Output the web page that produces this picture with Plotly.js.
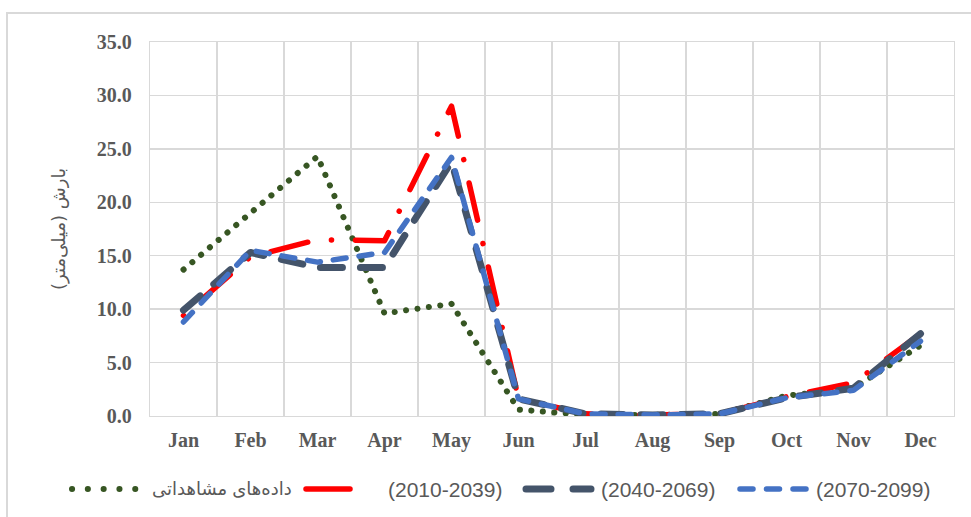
<!DOCTYPE html>
<html>
<head>
<meta charset="utf-8">
<script src="https://cdn.plot.ly/plotly-3.0.1.min.js"></script>
<style>
  html, body { margin: 0; padding: 0; background: #fff; }
  #frame { position: absolute; left: 6px; top: 12px; width: 1000px; height: 600px; border: 2px solid #d9d9d9; box-sizing: border-box; }
  #chart { position: absolute; left: 0; top: 0; width: 971px; height: 517px; }
  path.js-line, .shapelayer path { stroke-linecap: round !important; stroke-linejoin: round !important; }
</style>
</head>
<body>
<div id="frame"></div>
<div id="chart"></div>
<script>
// Data (monthly precipitation, mm)
const months = ["Jan","Feb","Mar","Apr","May","Jun","Jul","Aug","Sep","Oct","Nov","Dec"];
const observed = [13.7, 19.0, 24.3, 9.6, 10.5, 0.6, 0.1, 0.1, 0.2, 1.9, 2.6, 6.6];
const p2010_2039 = [9.4, 14.9, 16.5, 16.4, 29.0, 1.6, 0.2, 0.1, 0.2, 1.8, 3.1, 7.7];
const p2040_2069 = [9.9, 15.3, 13.9, 13.9, 23.8, 1.6, 0.2, 0.1, 0.2, 1.7, 2.6, 7.7];
const p2070_2099 = [8.8, 15.5, 14.4, 15.3, 24.2, 1.6, 0.2, 0.1, 0.2, 1.7, 2.4, 7.0];
const seriesNames = ["داده‌های مشاهداتی", "(2010-2039)", "(2040-2069)", "(2070-2099)"];
const seriesColors = ["#375623", "#FF0000", "#44546A", "#4472C4"];
const seriesWidths = [6, 5.5, 7, 5.5];
const seriesDash = ["0.1px,11.4px", "0.1px,24px,38px,24px", "22px,18px", "13px,13px"];
const yTitle = "بارش (میلی‌متر)";

const seriesValues = [observed, p2010_2039, p2040_2069, p2070_2099];
const traces = seriesValues.map((vals, i) => ({
  x: months, y: vals, name: seriesNames[i], type: "scatter", mode: "lines",
  line: {color: seriesColors[i], width: seriesWidths[i], dash: seriesDash[i]},
  showlegend: false
}));

// Plot-area geometry (px) used to place the legend row below the chart
const M = {l: 150, r: 17, t: 42, b: 101};
const W = 971, H = 517;
const pw = W - M.l - M.r, ph = H - M.t - M.b;
const px2x = px => (px - M.l) / pw;
const py2y = py => (H - M.b - py) / ph;

// Legend row: symbol [x0, x1], dash for symbol, text left edge
const legendY = 489;
const legendSymbols = [
  {x0: 72, x1: 136, dash: "0.1px,15.7px"},
  {x0: 306, x1: 350, dash: "solid"},
  {x0: 526, x1: 591, dash: "25px,22px"},
  {x0: 740, x1: 806, dash: "13px,13.5px"}
];
const legendTextX = [150, 386, 599, 814];
const legendFontSize = [18, 21, 21, 21];

const shapes = legendSymbols.map((s, i) => ({
  type: "line", xref: "paper", yref: "paper", layer: "above",
  x0: px2x(s.x0), x1: px2x(s.x1), y0: py2y(legendY), y1: py2y(legendY),
  line: {color: seriesColors[i], width: seriesWidths[i], dash: s.dash}
}));
const annotations = seriesNames.map((n, i) => ({
  text: n, xref: "paper", yref: "paper", x: px2x(legendTextX[i]), y: py2y(legendY),
  xanchor: "left", yanchor: "middle", showarrow: false,
  font: {family: "Liberation Sans, DejaVu Sans, sans-serif", size: legendFontSize[i], color: "#595959"}
}));

const tickFont = {family: "Liberation Serif, serif", size: 20, color: "#595959", weight: "bold"};

const layout = {
  width: W, height: H,
  paper_bgcolor: "rgba(0,0,0,0)", plot_bgcolor: "#fff",
  margin: M,
  showlegend: false,
  xaxis: {
    type: "category", range: [-0.5, 11.5], tickson: "boundaries",
    showgrid: true, gridcolor: "#d9d9d9", gridwidth: 1.3,
    showline: true, linecolor: "#d9d9d9", linewidth: 1.3, mirror: true,
    ticks: "", tickfont: tickFont, ticklabelstandoff: 6
  },
  yaxis: {
    range: [0, 35], dtick: 5, tickformat: ".1f",
    showgrid: true, gridcolor: "#d9d9d9", gridwidth: 1.3, zeroline: false,
    showline: true, linecolor: "#d9d9d9", linewidth: 1.3, mirror: true,
    ticks: "", tickfont: tickFont, ticklabelstandoff: 13,
    title: {text: yTitle, font: {family: "DejaVu Sans, sans-serif", size: 18, color: "#595959"}, standoff: 26}
  },
  shapes: shapes,
  annotations: annotations
};

Plotly.newPlot("chart", traces, layout, {displayModeBar: false, staticPlot: true});
</script>
</body>
</html>
